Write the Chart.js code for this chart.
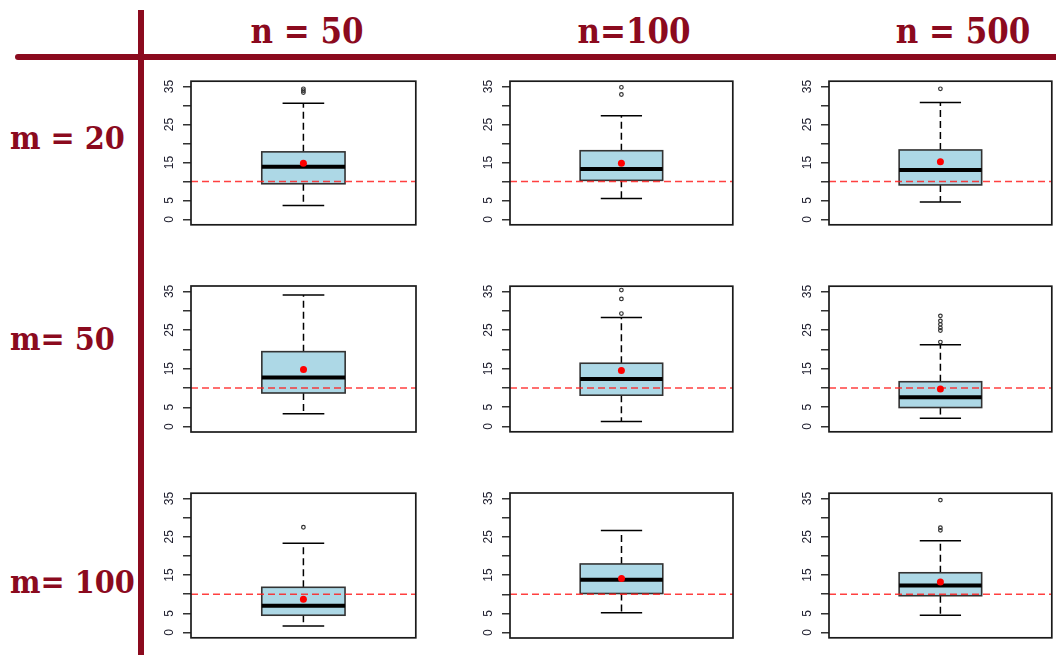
<!DOCTYPE html>
<html>
<head>
<meta charset="utf-8">
<script src="https://cdn.jsdelivr.net/npm/chart.js@4.4.1/dist/chart.umd.min.js"></script>
<style>
  body { margin:0; background:#fff; width:1056px; height:655px; overflow:hidden; position:relative; }
  .panel { position:absolute; }
  .lab { position:absolute; color:#8b0a1e; font-family:"DejaVu Serif", serif; font-weight:bold; white-space:nowrap; line-height:1; }
  .head { font-size:36px; transform:translateX(-50%) scaleX(0.86); }
  .row { font-size:31px; transform-origin:left center; transform:scaleX(0.93); }
  .bar { position:absolute; background:#8b0a1e; }
</style>
</head>
<body>
<div class="bar" style="left:15px;top:54px;width:1041px;height:6px;border-radius:3px 0 0 3px"></div>
<div class="bar" style="left:138px;top:10px;width:6px;height:645px"></div>

<script>
// ---------- data ----------
const nLabels = ['n = 50', 'n=100', 'n = 500'];
const mLabels = ['m = 20', 'm= 50', 'm= 100'];
const yTicks = [0, 5, 10, 15, 20, 25, 30, 35];
const yTickLabels = ['0', '5', '', '15', '', '25', '', '35'];
const refValue = 10;

// panels in reading order: m=20 (n=50, 100, 500), m=50 (...), m=100 (...)
const lowerWhisker = [3.7, 5.5, 4.6,   3.3, 1.3, 2.1,   1.7, 5.2, 4.5];
const q1           = [9.4, 10.3, 9.1,  8.7, 8.1, 4.9,   4.5, 10.2, 9.6];
const median       = [13.9, 13.3, 13.0, 12.7, 12.3, 7.6, 7.0, 13.8, 12.3];
const q3           = [17.8, 18.1, 18.3, 19.4, 16.4, 11.6, 11.8, 17.9, 15.6];
const upperWhisker = [30.6, 27.3, 30.8, 34.1, 28.3, 21.2, 23.3, 26.6, 24.0];
const means        = [14.8, 14.8, 15.2, 14.8, 14.5, 9.7,  8.7, 14.1, 13.2];
const outliers = [
  [33.4, 33.9, 34.4], [32.9, 34.8], [34.4],
  [], [29.3, 33.1, 35.4], [21.9, 24.9, 25.6, 26.5, 27.4, 28.7],
  [27.5], [], [26.7, 27.4, 34.6]
];

/* ---------- layout ---------- */
const colX = [191, 510, 829], colW = [225, 223, 223];
const rowY = [81, 286, 493], rowH = [144, 146, 145];
const headX = [307, 634, 963];
const rowBase = [149, 350, 593];
const AXW = 50, PAD = 5;
const xMin = 0.46, xMax = 1.54, yMin = -1.4, yMax = 36.4;
const BOXHALF = 0.2, CAPHALF = 0.1;

function addLabel(text, cls, left, top){
  const d = document.createElement('div');
  d.className = 'lab ' + cls;
  d.textContent = text;
  d.style.left = left + 'px';
  d.style.top = top + 'px';
  document.body.appendChild(d);
}
nLabels.forEach((t, c) => addLabel(t, 'head', headX[c], 42 - 0.846 * 36));
mLabels.forEach((t, r) => addLabel(t, 'row', 10, rowBase[r] - 0.846 * 31));

/* R style boxplot drawn through the chart's scales */
function rBox(i){
  return {
    id: 'rbox' + i,
    beforeDatasetsDraw(chart){
      const {ctx, scales:{x, y}} = chart;
      const py = v => y.getPixelForValue(v);
      const xc = x.getPixelForValue(1);
      const xl = x.getPixelForValue(1 - BOXHALF), xr = x.getPixelForValue(1 + BOXHALF);
      const cl = x.getPixelForValue(1 - CAPHALF), cr = x.getPixelForValue(1 + CAPHALF);
      const seg = (x1, y1, x2, y2) => { ctx.beginPath(); ctx.moveTo(x1, y1); ctx.lineTo(x2, y2); ctx.stroke(); };
      ctx.save();
      ctx.strokeStyle = '#000';
      ctx.lineWidth = 1.5;
      ctx.setLineDash([7, 4]);
      seg(xc, py(q3[i]), xc, py(upperWhisker[i]));
      seg(xc, py(q1[i]), xc, py(lowerWhisker[i]));
      ctx.setLineDash([]);
      seg(cl, py(upperWhisker[i]), cr, py(upperWhisker[i]));
      seg(cl, py(lowerWhisker[i]), cr, py(lowerWhisker[i]));
      ctx.fillStyle = '#add8e6';
      ctx.fillRect(xl, py(q3[i]), xr - xl, py(q1[i]) - py(q3[i]));
      ctx.strokeStyle = '#333';
      ctx.lineWidth = 1.6;
      ctx.strokeRect(xl, py(q3[i]), xr - xl, py(q1[i]) - py(q3[i]));
      ctx.strokeStyle = '#000';
      ctx.lineWidth = 4;
      seg(xl, py(median[i]), xr, py(median[i]));
      ctx.restore();
    },
    afterDraw(chart){
      const {ctx, chartArea:a, scales:{y}} = chart;
      ctx.save();
      ctx.strokeStyle = '#1a1a1a';
      ctx.lineWidth = 1.7;
      ctx.strokeRect(a.left, a.top, a.right - a.left, a.bottom - a.top);
      ctx.fillStyle = '#1c1c2c';
      ctx.font = '12px "Liberation Sans", Arial, sans-serif';
      ctx.textAlign = 'center';
      ctx.textBaseline = 'middle';
      yTicks.forEach((v, k) => {
        if (!yTickLabels[k]) return;
        ctx.save();
        ctx.translate(a.left - 21, y.getPixelForValue(v));
        ctx.rotate(-Math.PI / 2);
        ctx.fillText(yTickLabels[k], 0, 0);
        ctx.restore();
      });
      ctx.restore();
    }
  };
}

for (let r = 0; r < 3; r++) for (let c = 0; c < 3; c++){
  const i = r * 3 + c;
  const div = document.createElement('div');
  div.className = 'panel';
  div.style.left = (colX[c] - AXW) + 'px';
  div.style.top = (rowY[r] - PAD) + 'px';
  div.style.width = (colW[c] + AXW + PAD) + 'px';
  div.style.height = (rowH[r] + 2 * PAD) + 'px';
  const cv = document.createElement('canvas');
  div.appendChild(cv);
  document.body.appendChild(div);

  new Chart(cv, {
    type: 'scatter',
    data: { datasets: [
      { data: [{x: 1, y: means[i]}], pointRadius: 3.5, backgroundColor: '#ff0000', borderColor: '#ff0000', borderWidth: 0 },
      { data: outliers[i].map(v => ({x: 1, y: v})), pointRadius: 1.8, borderColor: '#333', borderWidth: 1.2, backgroundColor: 'rgba(0,0,0,0)' },
      { type: 'line', data: [{x: xMin, y: refValue}, {x: xMax, y: refValue}], borderColor: 'rgba(255,30,30,0.85)',
        borderWidth: 1.5, borderDash: [7, 4], pointRadius: 0 }
    ]},
    options: {
      responsive: true, maintainAspectRatio: false, animation: false, events: [],
      layout: { padding: { left: 0, right: PAD, top: PAD, bottom: PAD } },
      plugins: { legend: { display: false }, tooltip: { enabled: false } },
      scales: {
        x: { type: 'linear', min: xMin, max: xMax, display: false },
        y: {
          min: yMin, max: yMax,
          afterBuildTicks: s => { s.ticks = yTicks.map(v => ({value: v})); },
          afterFit: s => { s.width = AXW; },
          ticks: { display: false },
          grid: { drawOnChartArea: false, drawTicks: true, tickLength: 8, color: '#333', lineWidth: 1.5 },
          border: { display: false }
        }
      }
    },
    plugins: [rBox(i)]
  });
}
</script>
</body>
</html>
